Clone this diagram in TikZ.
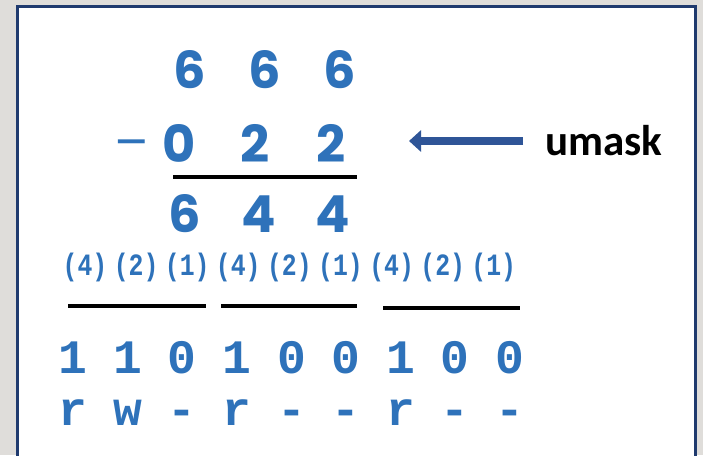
\documentclass[tikz,border=0pt]{standalone}
\usepackage{fontspec}
\usepackage{xcolor}
\usetikzlibrary{arrows.meta, positioning}

\newfontfamily\numfont{Poppins}
\newfontfamily\bitfont{Liberation Mono}
\newfontfamily\weightfont[FakeStretch=0.8]{Liberation Mono}
\newfontfamily\wordfont{Carlito}

\definecolor{pagegray}{HTML}{DFDDDA}
\definecolor{framenavy}{HTML}{1F3A6E}
\definecolor{digitblue}{HTML}{2E72BA}
\definecolor{arrowblue}{HTML}{2F5597}

\begin{document}
\begin{tikzpicture}[
  x=1pt, y=-1pt,
  octal/.style={inner sep=0pt, anchor=base, text=digitblue,
                font=\numfont\bfseries\fontsize{51}{51}\selectfont},
  weight/.style={inner sep=0pt, text=digitblue,
                 font=\weightfont\bfseries\fontsize{31}{31}\selectfont},
  bit/.style={inner sep=0pt, anchor=base, text=digitblue,
              font=\bitfont\bfseries\fontsize{48}{48}\selectfont},
  rule/.style={line width=4.5pt, black},
  maskarrow/.style={-{Triangle[length=12pt, width=21pt]}, line width=8pt, arrowblue}
]
% page and frame
\fill[pagegray] (0,0) rectangle (703,455);
\useasboundingbox (0,0) rectangle (703,455);
\draw[framenavy, line width=3pt, fill=white] (17.5,6.5) rectangle (695,470);

% the subtraction 666 - 022 = 644
\foreach \d [count=\i] in {6,6,6} {
  \node[octal] (perm\i) at ({190+75*(\i-1)},88) {\d};
}
\node[octal, font=\numfont\fontsize{51}{51}\selectfont] (minus) at (132,160) {–};
\foreach \d [count=\i] in {0,2,2} {
  \node[octal] (mask\i) at ({179+76*(\i-1)},162) {\d};
}
\draw[rule] (173,177) -- (357,177);
\foreach \d [count=\i] in {6,4,4} {
  \node[octal] (res\i) at ({185+74*(\i-1)},232) {\d};
}

% umask label
\node[inner sep=0pt, anchor=base west, font=\wordfont\bfseries\fontsize{43}{43}\selectfont]
  (umask) at (545,155) {umask};
\coordinate (masktail) at (523,141);
\coordinate (maskhead) at (409,141);
\draw[maskarrow] (masktail) -- (maskhead);

% bit weights
\foreach \w [count=\i] in {4,2,1,4,2,1,4,2,1} {
  \node[weight] (wt\i) at ({85+51.1*(\i-1)},267) {(\w)};
}
\draw[rule] (68,306) -- (206,306);
\draw[rule] (221,306) -- (357,306);
\draw[rule] (383,308) -- (520,308);

% binary digits and permissions
\foreach \b [count=\i] in {1,1,0,1,0,0,1,0,0} {
  \node[bit] (bit\i) at ({73+54.6*(\i-1)},373) {\b};
}
\foreach \p [count=\i] in {r,w,-,r,-,-,r,-,-} {
  \node[bit] (rwx\i) at ({73+54.6*(\i-1)},425) {\p};
}
\end{tikzpicture}
\end{document}
